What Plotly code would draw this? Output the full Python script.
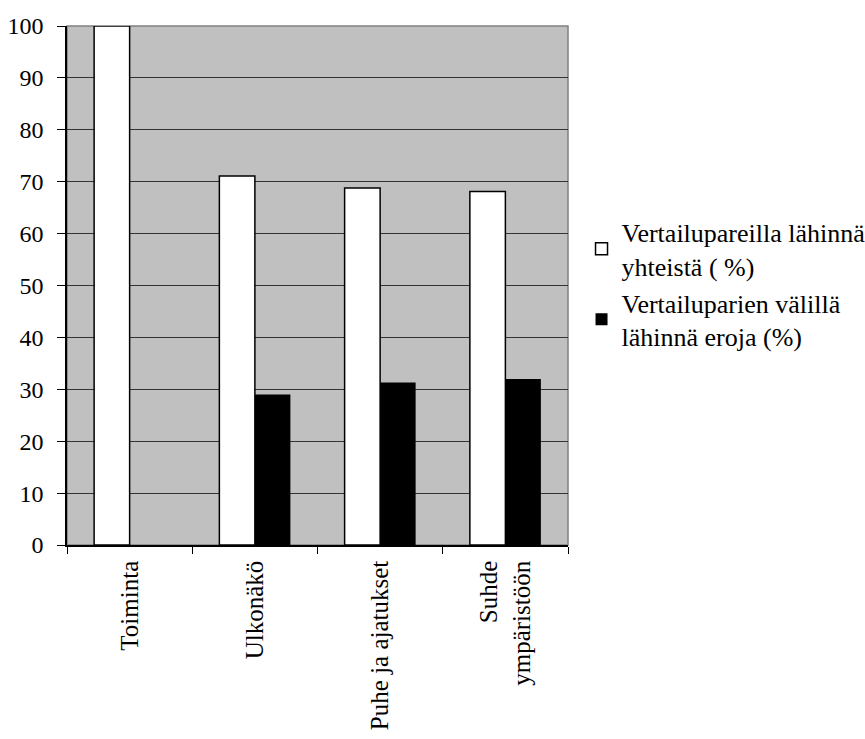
import plotly.graph_objects as go

categories = ["Toiminta", "Ulkonäkö", "Puhe ja ajatukset", "Suhde<br>ympäristöön"]
common_pct = [100, 71.1, 68.8, 68.1]
diff_pct = [0, 29.0, 31.3, 32.0]
series_names = ["Vertailupareilla lähinnä<br>yhteistä ( %)", "Vertailuparien välillä<br>lähinnä eroja (%)"]
y_ticks = [0, 10, 20, 30, 40, 50, 60, 70, 80, 90, 100]

FONT = "Liberation Serif"

fig = go.Figure()
fig.add_trace(go.Bar(
    x=categories, y=common_pct, name=series_names[0],
    marker=dict(color="white", line=dict(color="black", width=1.5)),
))
fig.add_trace(go.Bar(
    x=categories, y=diff_pct, name=series_names[1],
    marker=dict(color="black", line=dict(color="black", width=0)),
))

fig.update_layout(
    width=865, height=739,
    margin=dict(l=67, r=297, t=26, b=194, autoexpand=False),
    paper_bgcolor="white",
    plot_bgcolor="#c0c0c0",
    barmode="group",
    bargap=0.433,
    bargroupgap=0,
    font=dict(family=FONT, size=24, color="black"),
    showlegend=True,
    legend=dict(
        x=1.027, y=0.502, xanchor="left", yanchor="middle",
        font=dict(family=FONT, size=26, color="black"),
        bgcolor="rgba(0,0,0,0)",
        tracegroupgap=0,
        itemwidth=30,
    ),
    shapes=[dict(
        type="rect", xref="paper", yref="paper", x0=0, x1=1, y0=0, y1=1,
        line=dict(color="#808080", width=1.5), fillcolor="rgba(0,0,0,0)",
        layer="below",
    )],
)

fig.update_xaxes(
    type="category",
    tickangle=-90,
    ticks="outside", ticklen=7, tickwidth=1, tickcolor="black",
    tickson="boundaries",
    ticklabelstandoff=4,
    showline=True, linecolor="black", linewidth=1.5,
    showgrid=False,
    automargin=False,
    tickfont=dict(family=FONT, size=25, color="black"),
)
fig.update_yaxes(
    range=[0, 100],
    tickvals=y_ticks,
    ticks="outside", ticklen=8, tickwidth=1, tickcolor="black",
    ticklabelstandoff=9,
    showline=True, linecolor="black", linewidth=1.5,
    showgrid=True, gridcolor="#333333", gridwidth=1,
    zeroline=False,
    automargin=False,
    tickfont=dict(family=FONT, size=24, color="black"),
)

fig.write_html("out.html", config={"displayModeBar": False},
               post_script="document.body.style.margin='0';")
